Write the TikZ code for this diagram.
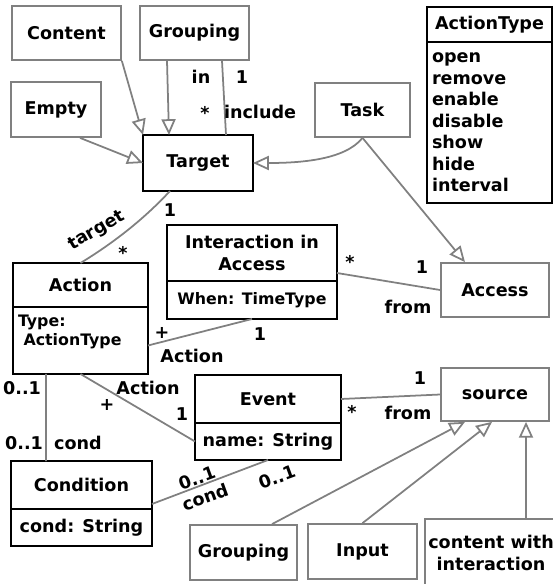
\documentclass[tikz,border=0pt]{standalone}
\usepackage{fontspec}
\setmainfont{DejaVu Sans}
\usetikzlibrary{positioning, arrows.meta, calc}
\definecolor{linegray}{HTML}{808080}

\begin{document}
\begin{tikzpicture}[x=0.02cm, y=-0.02cm, font=\bfseries\fontsize{10}{12.2}\selectfont,
    plain/.style={draw=linegray, line width=1pt, align=center, inner sep=2pt},
    cls/.style={draw=black, line width=1.2pt, align=center, outer sep=0pt, inner sep=2pt},
    attr/.style={cls, below=0pt of #1},
    small/.style={font=\bfseries\fontsize{9}{10.8}\selectfont},
    assoc/.style={draw=linegray, line width=1pt},
    inherit/.style={assoc, -{Triangle[open, length=9pt, width=8pt]}},
    lbl/.style={inner sep=0pt}]

\useasboundingbox (0,0) rectangle (553,584);
\clip (0,0) rectangle (553,584);

% Define the classes
\node[plain, minimum width=2.18cm, minimum height=1.08cm] (content) at (66.5,33) {Content};
\node[plain, minimum width=2.18cm, minimum height=1.08cm] (grp) at (194.5,33) {Grouping};
\node[plain, minimum width=1.8cm, minimum height=1.1cm] (empty) at (56,109.5) {Empty};
\node[cls, minimum width=2.2cm, minimum height=1.12cm] (target) at (198,163) {Target};
\node[plain, minimum width=1.9cm, minimum height=1.08cm] (task) at (362.5,110) {Task};

\node[cls, minimum width=2.5cm, minimum height=0.7cm] (atype) at (489.5,24.5) {ActionType};
\node[attr=atype, minimum height=3.22cm, text width=2.3cm, inner xsep=0.1cm, align=left] (atype-v)
    {open\\remove\\enable\\disable\\show\\hide\\interval};

\node[cls, minimum width=2.7cm, minimum height=0.88cm] (action) at (80.5,285) {Action};
\node[attr=action, small, minimum height=1.34cm, text width=2.5cm, inner xsep=0.1cm, align=left,
    text depth=23pt] (action-v) {Type:\\\hspace*{0.35em}ActionType};

\node[cls, minimum width=3.4cm, minimum height=1.12cm] (inter) at (252,253) {Interaction in\\Access};
\node[attr=inter, small, minimum width=3.4cm, minimum height=0.76cm] (inter-v) {When: TimeType};

\node[plain, minimum width=2.16cm, minimum height=1.08cm] (access) at (495,290) {Access};

\node[cls, minimum width=2.92cm, minimum height=0.96cm] (event) at (268,399) {Event};
\node[attr=event, minimum width=2.92cm, minimum height=0.74cm] (event-v) {name: String};

\node[plain, minimum width=2.16cm, minimum height=1.06cm] (source) at (495,394.5) {source};

\node[cls, minimum width=2.82cm, minimum height=0.96cm] (cond) at (81.5,485) {Condition};
\node[attr=cond, minimum width=2.82cm, minimum height=0.74cm] (cond-v) {cond: String};

\node[plain, minimum width=2.14cm, minimum height=1.1cm] (grp2) at (243.5,552.5) {Grouping};
\node[plain, minimum width=2.18cm, minimum height=1.1cm] (input) at (362.5,551.5) {Input};
\node[plain, minimum width=2.6cm, minimum height=1.36cm] (cwi) at (491,553) {content with\\interaction};

% Inheritance
\draw[inherit] (content.south east) -- (target.north west);
\draw[inherit] ($(grp.south)+(-27.5,0)$) -- ($(target.north)+(-29,0)$);
\draw[inherit] ($(empty.south)+(24,0)$) -- (target.west);
\draw[inherit] (task.south) .. controls (345,160) and (300,163) .. (target.east);
\draw[inherit] (task.south) -- ($(access.north)+(-30,0)$);
\draw[inherit] ($(grp2.north)+(28.5,0)$) -- ($(source.south)+(-30,0)$);
\draw[inherit] (input.north) -- ($(source.south)+(-3,0)$);
\draw[inherit] ($(cwi.north)+(35,0)$) -- ($(source.south)+(31,0)$);

% Associations
\draw[assoc] ($(grp.south)+(27.5,0)$) -- ($(target.north)+(28,0)$);
\draw[assoc] ($(target.south)+(-28,0)$) .. controls (145,218) and (115,242) .. (action.north);
\draw[assoc] ($(inter.south east)+(0,-8)$) -- (access.west);
\draw[assoc] ($(action-v.east)+(0,5)$) -- (inter-v.south);
\draw[assoc] (action-v.south) -- (event-v.west);
\draw[assoc] ($(action-v.south west)+(33,0)$) -- ($(cond.north west)+(35,0)$);
\draw[assoc] ($(cond.south east)+(0,-5)$) -- (event-v.south);
\draw[assoc] (event.east) -- (source.west);

% Labels
\node[lbl] (in) at (201,77) {in};
\node[lbl] (in-m) at (242,77) {1};
\node[lbl] (inc-m) at (205,113) {*};
\node[lbl] (inc) at (260,112) {include};
\node[lbl, rotate=30] (tg) at (97,231) {target};
\node[lbl] (tg-1) at (170,210) {1};
\node[lbl] (tg-2) at (123,253) {*};
\node[lbl] (acc-1) at (350,262) {*};
\node[lbl] (acc-2) at (422,267) {1};
\node[lbl] (acc-r) at (408,307) {from};
\node[lbl] (ia-1) at (162,333) {+};
\node[lbl] (ia-2) at (260,334) {1};
\node[lbl] (ia-r) at (192,356) {Action};
\node[lbl] (ev-r) at (148,388) {Action};
\node[lbl] (ev-1) at (107,405) {+};
\node[lbl] (ev-2) at (182,414) {1};
\node[lbl] (cd-1) at (22,388) {0..1};
\node[lbl] (cd-2) at (24,443) {0..1};
\node[lbl] (cd-r) at (78,443) {cond};
\node[lbl, rotate=20] (ce-1) at (197,478) {0..1};
\node[lbl, rotate=20] (ce-r) at (205,497) {cond};
\node[lbl, rotate=20] (ce-2) at (277,477) {0..1};
\node[lbl] (src-1) at (420,378) {1};
\node[lbl] (src-2) at (352,412) {*};
\node[lbl] (src-r) at (408,413) {from};

\end{tikzpicture}
\end{document}
